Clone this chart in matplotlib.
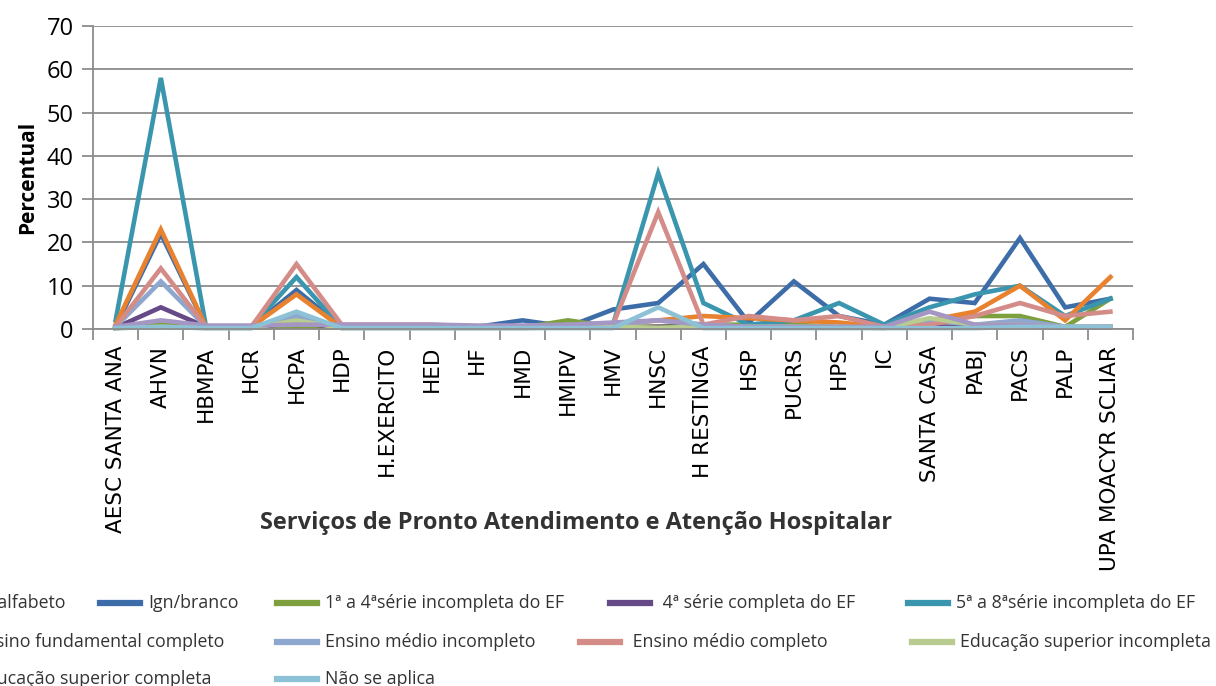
import matplotlib
matplotlib.use("Agg")
import matplotlib.pyplot as plt
from matplotlib.lines import Line2D
import numpy as np

servicos = ["AESC SANTA ANA", "AHVN", "HBMPA", "HCR", "HCPA", "HDP", "H.EXERCITO",
            "HED", "HF", "HMD", "HMIPV", "HMV", "HNSC", "H RESTINGA", "HSP", "PUCRS",
            "HPS", "IC", "SANTA CASA", "PABJ", "PACS", "PALP", "UPA MOACYR SCLIAR"]

escolaridade = ["Analfabeto", "Ign/branco", "1\u00aa a 4\u00aas\u00e9rie incompleta do EF",
                " 4\u00aa s\u00e9rie completa do EF", "5\u00aa a 8\u00aas\u00e9rie incompleta do EF",
                "Ensino fundamental completo", "Ensino m\u00e9dio incompleto",
                " Ensino m\u00e9dio completo", "Educa\u00e7\u00e3o superior incompleta",
                "Educa\u00e7\u00e3o superior completa", "N\u00e3o se aplica"]

analfabeto = [0.3, 1, 0.3, 0.3, 2, 0.3, 0.3, 0.3, 0.3, 0.3, 0.3, 0.3, 0.5, 0.5, 0.5, 0.5, 0.3, 0.3, 0.5, 0.5, 0.5, 0.3, 0.5]
ign_branco = [0.5, 22, 0.5, 0.5, 9, 0.5, 0.5, 0.5, 0.5, 2, 0.5, 4.5, 6, 15, 1.5, 11, 3, 1, 7, 6, 21, 5, 7]
serie_1a4_inc = [0.2, 1, 0.3, 0.3, 0.5, 0.3, 0.3, 0.3, 0.3, 0.3, 2, 0.5, 0.5, 1, 1, 1, 0.5, 0.3, 2, 3, 3, 0.5, 7]
serie_4_comp = [0.3, 5, 0.5, 0.3, 1.5, 0.3, 0.3, 0.3, 0.3, 0.3, 0.3, 0.3, 0.5, 0.5, 0.3, 0.3, 0.3, 0.3, 0.5, 0.5, 1, 0.3, 0.3]
serie_5a8_inc = [2, 58, 0.5, 0.5, 12, 0.3, 0.3, 0.3, 0.3, 0.3, 0.3, 1, 36, 6, 1, 2, 6, 1, 5, 8, 10, 3, 7]
fund_comp = [1, 23, 0.5, 0.5, 8, 0.3, 0.3, 0.3, 0.3, 0.3, 0.5, 1, 2, 3, 2.5, 2, 1.5, 0.5, 2, 4, 10, 2, 12]
medio_inc = [0.5, 11, 0.5, 0.3, 3, 0.3, 0.3, 0.3, 0.3, 0.3, 0.3, 1, 2, 1, 0.5, 0.5, 0.5, 0.3, 2, 1, 2, 0.5, 0.5]
medio_comp = [0.5, 14, 0.5, 0.5, 15, 1, 1, 1, 0.5, 0.5, 0.5, 1, 27, 1, 3, 2, 3, 0.5, 1, 3, 6, 3, 4]
sup_inc = [0.2, 0.5, 0.2, 0.2, 2, 0.2, 0.2, 0.2, 0.2, 0.2, 0.5, 0.5, 0.3, 0.5, 0.5, 0.5, 0.5, 0.2, 2.5, 1, 1, 0.5, 0.5]
sup_comp = [0.5, 2, 0.8, 0.8, 1, 1, 1, 1, 0.8, 0.8, 1, 1.5, 2, 1, 0.5, 0.5, 0.5, 0.5, 4, 1, 1, 0.5, 0.5]
nao_aplica = [0.2, 0.5, 0.2, 0.2, 4, 0.2, 0.2, 0.2, 0.2, 0.2, 0.2, 0.2, 5, 0.2, 0.2, 0.2, 0.2, 0.2, 0.2, 0.2, 0.5, 0.5, 0.5]

series = [analfabeto, ign_branco, serie_1a4_inc, serie_4_comp, serie_5a8_inc, fund_comp,
          medio_inc, medio_comp, sup_inc, sup_comp, nao_aplica]
cores = ["#A5403D", "#3D6DA8", "#7E9F3E", "#664A87", "#3A96AE", "#E8822F",
         "#8EA7CF", "#D48C89", "#B7CC8E", "#A597C4", "#8DC2D6"]

# legend layout: (row y in px, text start x in px); handle sits just left of the text
leg_pos = [(603, -25), (603, 148), (603, 325), (603, 658), (603, 956),
           (642, -25), (642, 325), (642, 628), (642, 960),
           (679, -24), (679, 325)]

W, H = 1216, 686
fig = plt.figure(figsize=(W / 100, H / 100), dpi=100)
ax = fig.add_axes([93 / W, 1 - 329 / H, (1133 - 93) / W, (329 - 26) / H])

x = np.arange(len(servicos))
for vals, cor in zip(series, cores):
    ax.plot(x, vals, color=cor, lw=3.3, solid_joinstyle="miter", clip_on=False)

ax.set_xlim(-0.5, len(servicos) - 0.5)
ax.set_ylim(0, 70)
ax.set_yticks(range(0, 71, 10))
ax.yaxis.grid(True, color="#8c8c8c", lw=1.3)
ax.set_axisbelow(True)
for s in ["top", "right"]:
    ax.spines[s].set_visible(False)
for s in ["left", "bottom"]:
    ax.spines[s].set_color("#8c8c8c")
    ax.spines[s].set_linewidth(1.3)

ax.set_xticks(np.arange(len(servicos) + 1) - 0.5)
ax.set_xticklabels([])
ax.set_xticks(x, minor=True)
ax.set_xticklabels(servicos, minor=True, rotation=90, fontsize=15.5, family="DejaVu Sans")
ax.tick_params(axis="x", which="major", length=8, color="#8c8c8c", width=1.3)
ax.tick_params(axis="x", which="minor", length=0, pad=12)
ax.tick_params(axis="y", length=8, color="#8c8c8c", width=1.3, labelsize=17, pad=6)
for t in ax.get_yticklabels():
    t.set_family("Open Sans")

ax.set_ylabel("Percentual", family="Open Sans", weight="bold", fontsize=15, labelpad=6)
fig.text(576 / W, 1 - 523 / H, "Servi\u00e7os de Pronto Atendimento e Aten\u00e7\u00e3o Hospitalar",
         family="Open Sans", weight="bold", fontsize=17, ha="center", va="center", color="#333333")

for nome, cor, (yy, xx) in zip(escolaridade, cores, leg_pos):
    yf = 1 - yy / H
    fig.add_artist(Line2D([(xx - 48) / W, (xx - 8) / W], [yf, yf], color=cor, lw=4.5,
                          transform=fig.transFigure))
    fig.text(xx / W, yf, nome, family="Open Sans", fontsize=12.8,
             va="center", ha="left", color="#333333")

fig.savefig("out.png", dpi=100)
